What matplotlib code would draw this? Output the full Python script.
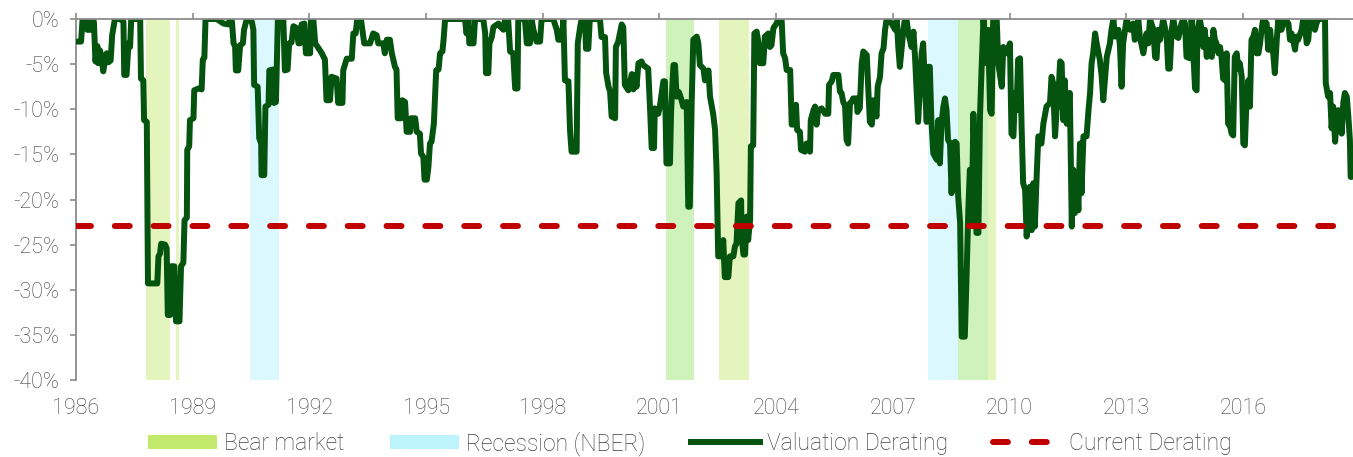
import matplotlib
matplotlib.use("Agg")
import matplotlib.pyplot as plt
from matplotlib.patches import Patch
from matplotlib.lines import Line2D
from matplotlib.ticker import FuncFormatter

plt.rcParams['font.family'] = ['Roboto', 'DejaVu Sans']
plt.rcParams['font.weight'] = 'light'

# valuation derating (% below previous peak)
dates = [
    1986.02, 1986.13, 1986.17, 1986.26, 1986.29, 1986.36, 1986.40, 1986.46, 1986.50, 1986.55,
    1986.57, 1986.62, 1986.66, 1986.70, 1986.75, 1986.79, 1986.83, 1986.89, 1986.93, 1986.96,
    1987.00, 1987.13, 1987.22, 1987.24, 1987.30, 1987.35, 1987.39, 1987.42, 1987.65, 1987.67,
    1987.73, 1987.75, 1987.82, 1987.85, 1988.09, 1988.12, 1988.16, 1988.19, 1988.29, 1988.33,
    1988.36, 1988.42, 1988.44, 1988.53, 1988.57, 1988.66, 1988.70, 1988.76, 1988.79, 1988.85,
    1988.86, 1988.91, 1988.93, 1989.02, 1989.04, 1989.15, 1989.23, 1989.26, 1989.30, 1989.33,
    1989.62, 1989.79, 1989.92, 1989.96, 1990.01, 1990.05, 1990.09, 1990.11, 1990.17, 1990.22,
    1990.29, 1990.32, 1990.39, 1990.52, 1990.56, 1990.58, 1990.67, 1990.71, 1990.76, 1990.77,
    1990.84, 1990.87, 1990.95, 1990.97, 1991.06, 1991.09, 1991.14, 1991.19, 1991.23, 1991.33,
    1991.37, 1991.44, 1991.48, 1991.54, 1991.59, 1991.67, 1991.72, 1991.76, 1991.80, 1991.87,
    1991.91, 1992.02, 1992.04, 1992.10, 1992.15, 1992.23, 1992.32, 1992.40, 1992.44, 1992.53,
    1992.57, 1992.70, 1992.74, 1992.85, 1992.87, 1992.96, 1993.09, 1993.13, 1993.19, 1993.23,
    1993.33, 1993.41, 1993.56, 1993.64, 1993.73, 1993.77, 1993.90, 1993.94, 1993.99, 1994.07,
    1994.12, 1994.20, 1994.24, 1994.27, 1994.36, 1994.39, 1994.46, 1994.50, 1994.59, 1994.61,
    1994.72, 1994.76, 1994.84, 1994.87, 1994.93, 1994.96, 1995.02, 1995.06, 1995.10, 1995.14,
    1995.20, 1995.26, 1995.32, 1995.36, 1995.42, 1995.45, 1995.49, 1996.00, 1996.04, 1996.09,
    1996.11, 1996.22, 1996.26, 1996.47, 1996.52, 1996.54, 1996.60, 1996.63, 1996.69, 1996.73,
    1996.86, 1996.90, 1996.99, 1997.03, 1997.11, 1997.16, 1997.24, 1997.29, 1997.35, 1997.37,
    1997.54, 1997.59, 1997.67, 1997.71, 1997.76, 1997.84, 1997.93, 1997.97, 1998.27, 1998.36,
    1998.40, 1998.49, 1998.53, 1998.57, 1998.66, 1998.70, 1998.74, 1998.87, 1998.90, 1998.96,
    1999.00, 1999.09, 1999.11, 1999.17, 1999.21, 1999.47, 1999.51, 1999.60, 1999.63, 1999.69,
    1999.73, 1999.77, 1999.86, 1999.88, 1999.94, 2000.03, 2000.07, 2000.11, 2000.20, 2000.29,
    2000.33, 2000.37, 2000.41, 2000.46, 2000.54, 2000.58, 2000.71, 2000.76, 2000.80, 2000.86,
    2000.88, 2000.97, 2001.01, 2001.10, 2001.14, 2001.18, 2001.27, 2001.30, 2001.36, 2001.40,
    2001.44, 2001.50, 2001.57, 2001.61, 2001.70, 2001.74, 2001.78, 2001.83, 2001.87, 2001.96,
    2002.00, 2002.04, 2002.13, 2002.17, 2002.26, 2002.30, 2002.38, 2002.43, 2002.47, 2002.51,
    2002.60, 2002.64, 2002.68, 2002.77, 2002.81, 2002.90, 2002.94, 2002.98, 2003.03, 2003.10,
    2003.11, 2003.16, 2003.20, 2003.24, 2003.28, 2003.33, 2003.35, 2003.41, 2003.44, 2003.50,
    2003.54, 2003.58, 2003.67, 2003.71, 2003.80, 2003.84, 2003.88, 2003.93, 2004.01, 2004.06,
    2004.14, 2004.18, 2004.23, 2004.27, 2004.36, 2004.40, 2004.48, 2004.51, 2004.54, 2004.61,
    2004.64, 2004.74, 2004.78, 2004.87, 2004.89, 2004.96, 2005.00, 2005.04, 2005.08, 2005.17,
    2005.26, 2005.34, 2005.36, 2005.43, 2005.47, 2005.60, 2005.64, 2005.68, 2005.73, 2005.77,
    2005.81, 2005.85, 2005.90, 2005.94, 2005.98, 2006.07, 2006.09, 2006.15, 2006.20, 2006.24,
    2006.33, 2006.37, 2006.41, 2006.46, 2006.50, 2006.58, 2006.61, 2006.67, 2006.71, 2006.76,
    2006.80, 2006.84, 2006.97, 2007.06, 2007.10, 2007.14, 2007.18, 2007.23, 2007.27, 2007.31,
    2007.35, 2007.40, 2007.48, 2007.53, 2007.57, 2007.61, 2007.65, 2007.70, 2007.74, 2007.78,
    2007.83, 2007.87, 2007.91, 2007.95, 2007.99, 2008.04, 2008.13, 2008.17, 2008.21, 2008.25,
    2008.30, 2008.34, 2008.38, 2008.42, 2008.47, 2008.51, 2008.55, 2008.60, 2008.64, 2008.68,
    2008.73, 2008.77, 2008.85, 2008.90, 2008.94, 2008.98, 2009.03, 2009.07, 2009.11, 2009.15,
    2009.20, 2009.24, 2009.28, 2009.33, 2009.37, 2009.41, 2009.45, 2009.50, 2009.54, 2009.58,
    2009.67, 2009.71, 2009.80, 2009.84, 2009.93, 2010.01, 2010.05, 2010.10, 2010.14, 2010.18,
    2010.22, 2010.27, 2010.31, 2010.35, 2010.40, 2010.44, 2010.48, 2010.52, 2010.57, 2010.61,
    2010.65, 2010.70, 2010.74, 2010.82, 2010.87, 2010.95, 2011.04, 2011.08, 2011.12, 2011.17,
    2011.21, 2011.25, 2011.30, 2011.34, 2011.38, 2011.42, 2011.47, 2011.51, 2011.55, 2011.60,
    2011.64, 2011.68, 2011.73, 2011.77, 2011.81, 2011.85, 2011.90, 2011.98, 2012.03, 2012.07,
    2012.11, 2012.15, 2012.20, 2012.24, 2012.32, 2012.37, 2012.41, 2012.45, 2012.50, 2012.58,
    2012.62, 2012.67, 2012.71, 2012.80, 2012.84, 2012.88, 2012.92, 2013.01, 2013.10, 2013.18,
    2013.22, 2013.27, 2013.31, 2013.35, 2013.44, 2013.52, 2013.57, 2013.61, 2013.70, 2013.74,
    2013.78, 2013.82, 2013.87, 2013.95, 2014.04, 2014.08, 2014.12, 2014.17, 2014.21, 2014.29,
    2014.34, 2014.42, 2014.47, 2014.51, 2014.55, 2014.64, 2014.68, 2014.77, 2014.81, 2014.83,
    2014.89, 2014.94, 2014.98, 2015.02, 2015.07, 2015.11, 2015.15, 2015.20, 2015.24, 2015.28,
    2015.32, 2015.37, 2015.41, 2015.45, 2015.49, 2015.54, 2015.58, 2015.62, 2015.67, 2015.71,
    2015.75, 2015.79, 2015.84, 2015.88, 2015.92, 2015.97, 2016.01, 2016.05, 2016.09, 2016.14,
    2016.18, 2016.22, 2016.27, 2016.31, 2016.35, 2016.40, 2016.44, 2016.48, 2016.52, 2016.61,
    2016.65, 2016.70, 2016.74, 2016.78, 2016.82, 2016.87, 2016.91, 2016.99, 2017.08, 2017.17,
    2017.21, 2017.25, 2017.29, 2017.34, 2017.38, 2017.42, 2017.51, 2017.55, 2017.59, 2017.64,
    2017.68, 2017.72, 2017.81, 2017.85, 2017.89, 2017.94, 2018.11, 2018.13, 2018.19, 2018.24,
    2018.28, 2018.32, 2018.37, 2018.41, 2018.45, 2018.49, 2018.54, 2018.58, 2018.62, 2018.67,
    2018.71, 2018.75, 2018.77, 2018.79,
]
derating = [
    -2.5, -2.5, 0, -0.2, -1.2, -1.2, 0, -0.3, -4.7, -3.0,
    -4.9, -3.5, -4.4, -5.8, -4.5, -3.8, -4.8, -4.6, -1.8, -1.0,
    0, 0, -0.3, -6.2, -6.2, -2.7, -3.1, 0, 0, -6.6,
    -6.8, -11.2, -11.4, -29.3, -29.3, -26.3, -26.0, -24.9, -25.0, -25.4,
    -32.8, -32.8, -27.4, -27.4, -33.5, -33.5, -27.4, -27.0, -22.3, -22.0,
    -14.5, -14.1, -11.2, -11.0, -7.9, -7.7, -7.8, -4.5, -4.3, 0,
    0, -0.5, -0.6, 0, -0.3, -2.7, -3.0, -5.7, -5.7, -2.9,
    -2.7, -1.2, 0, -0.3, -1.2, -7.3, -7.5, -13.2, -13.8, -17.3,
    -17.3, -9.7, -9.5, -5.7, -5.6, -9.3, -9.2, 0, 0, 0,
    -5.7, -5.6, -2.7, -2.6, -0.8, -1.0, -2.7, -2.7, -0.6, -0.5,
    -3.8, -3.8, 0, 0, -2.7, -3.2, -3.8, -4.5, -9.0, -9.0,
    -6.4, -6.6, -9.3, -9.3, -5.7, -4.4, -4.4, -1.6, -1.6, 0,
    -0.2, -2.7, -2.7, -1.6, -1.8, -2.7, -2.7, -3.8, -2.3, -2.3,
    -3.8, -5.3, -5.6, -11.0, -11.0, -9.0, -9.2, -12.5, -12.5, -11.0,
    -11.0, -12.5, -12.7, -14.9, -15.3, -17.8, -17.8, -16.4, -13.8, -13.6,
    -11.6, -5.7, -5.6, -3.8, -3.6, -2.3, 0, 0, -1.6, 0,
    -2.7, -2.7, 0, 0, -1.6, -6.0, -6.0, -2.7, -2.0, -0.9,
    -0.5, -0.8, -1.2, 0, 0, -3.6, -3.8, -7.7, -7.7, 0,
    0, -2.7, -2.7, 0, -1.2, -2.5, -2.5, 0, 0, -1.2,
    -2.3, -2.3, 0, -6.8, -6.9, -12.3, -14.7, -14.7, -2.7, -0.9,
    0, 0, -3.3, -3.3, 0, 0, -2.0, -2.0, -6.0, -7.5,
    -8.0, -10.8, -11.0, -3.1, -2.5, -0.6, -0.9, -7.3, -7.9, -6.1,
    -7.8, -6.2, -7.5, -4.9, -4.7, -5.1, -5.5, -10.1, -14.3, -14.3,
    -9.9, -10.5, -9.7, -6.9, -6.9, -16.0, -16.0, -10.1, -5.1, -5.1,
    -8.6, -8.1, -9.0, -9.7, -9.2, -20.8, -20.8, -9.0, -2.3, -1.95,
    -2.7, -5.1, -5.5, -6.8, -5.7, -8.6, -10.5, -12.3, -17.1, -26.3,
    -26.3, -24.5, -28.6, -28.6, -26.3, -26.3, -25.2, -24.9, -20.4, -20.1,
    -24.1, -26.1, -26.1, -21.9, -24.5, -22.3, -14.1, -14.0, -1.6, -1.4,
    -2.5, -4.9, -4.9, -1.95, -1.6, -3.1, -2.9, -1.0, -0.5, 0,
    0, -3.8, -4.35, -5.65, -5.65, -11.7, -11.7, -9.5, -12.3, -12.5,
    -14.5, -14.7, -13.8, -14.7, -11.2, -10.1, -9.7, -11.7, -10.1, -9.9,
    -10.5, -10.5, -7.3, -6.9, -6.2, -6.2, -8.05, -8.2, -9.3, -9.5,
    -13.4, -13.8, -9.3, -9.2, -8.8, -8.8, -10.3, -9.9, -4.9, -3.6,
    -4.0, -7.9, -11.4, -11.7, -9.0, -10.8, -7.5, -6.4, -3.8, -3.25,
    -1.2, 0, -0.5, -1.2, 0, -3.1, -5.3, -3.1, -1.2, 0,
    0, -1.6, -3.1, -1.4, -4.2, -7.9, -11.4, -7.1, -3.8, -2.7,
    -7.9, -11.4, -5.3, -5.3, -11.2, -14.9, -15.6, -11.2, -16.0, -11.6,
    -9.7, -8.8, -10.1, -13.4, -13.8, -19.3, -13.8, -13.6, -13.8, -19.7,
    -22.6, -35.2, -35.2, -27.8, -21.2, -16.7, -22.6, -10.5, -16.4, -23.7,
    -23.7, -10.8, -5.65, 0, -2.7, -4.9, -1.2, -10.1, -10.5, 0,
    0, -4.9, -7.5, -3.1, -3.8, -2.7, -12.7, -13.0, -8.2, -10.1,
    -4.5, -4.35, -11.9, -18.2, -18.9, -24.1, -21.9, -18.6, -23.4, -18.2,
    -23.0, -17.1, -13.0, -13.8, -11.6, -9.7, -9.3, -6.4, -7.1, -13.0,
    -10.1, -9.0, -4.7, -4.9, -11.2, -6.8, -11.6, -9.3, -8.2, -23.0,
    -16.7, -21.5, -17.5, -21.2, -13.8, -19.3, -13.0, -13.0, -10.1, -8.2,
    -4.9, -3.8, -1.6, -2.7, -4.5, -6.4, -9.0, -6.8, -4.2, -2.7,
    -1.2, 0, -1.95, -1.2, -3.1, -7.5, -2.7, 0, -1.2, -0.5,
    -2.3, -1.2, 0, -1.95, -3.8, -1.6, -2.7, 0, -1.2, -4.2,
    -4.35, -1.2, -2.3, 0, -1.95, -5.5, -5.5, -1.2, 0, -1.95,
    -2.1, -0.5, 0, -0.5, -4.2, -4.35, 0, -7.7, -7.9, -1.2,
    0, -1.2, -3.1, -1.2, -4.2, -2.3, -3.8, -4.2, -1.2, -2.3,
    -2.7, -3.8, -3.1, -4.2, -6.6, -6.8, -3.8, -11.6, -11.9, -12.7,
    -12.9, -4.2, -3.8, -5.5, -4.9, -6.4, -13.8, -14.0, -9.3, -6.8,
    -9.7, -2.3, -1.95, -1.2, -3.8, -3.8, -2.7, -1.2, 0, -0.5,
    -3.4, -1.2, -3.4, -3.8, -6.0, -2.3, 0, -1.2, 0, -0.5,
    -2.3, -1.6, -2.3, -3.4, -1.95, -2.3, -1.2, 0, -0.5, -2.7,
    -2.3, 0, -0.5, -1.2, -0.5, 0, 0, -7.1, -8.6, -8.2,
    -12.1, -9.7, -13.6, -11.2, -10.1, -10.5, -12.7, -9.3, -8.2, -8.6,
    -10.8, -13.4, -17.5, -17.5,
]
current_derating = -22.9

# shaded periods
bear_start = [1987.80, 1988.57, 2001.18, 2002.53, 2008.68]
bear_end = [1988.42, 1988.64, 2001.89, 2003.30, 2009.64]
recession_start = [1990.47, 2001.16, 2007.91]
recession_end = [1991.23, 2001.88, 2009.45]

year_ticks = [1986, 1989, 1992, 1995, 1998, 2001, 2004, 2007, 2010, 2013, 2016]
pct_ticks = [0, -5, -10, -15, -20, -25, -30, -35, -40]

bear_col = '#c2e96c'
rec_col = '#bdf4fc'
line_col = '#04530f'
red_col = '#c00000'
grey = '#8c8c8c'
text_col = '#404040'

fig = plt.figure(figsize=(13.53, 4.57), dpi=100)
ax = fig.add_axes([76 / 1353, 1 - 380 / 457, 1 - 76 / 1353, (380 - 19) / 457])

for s, e in zip(recession_start, recession_end):
    ax.axvspan(s, e, color=rec_col, alpha=0.55, lw=0, zorder=1)
for s, e in zip(bear_start, bear_end):
    ax.axvspan(s, e, color=bear_col, alpha=0.45, lw=0, zorder=1)

ax.plot(dates, derating, color=line_col, lw=4.3, solid_joinstyle='round',
        solid_capstyle='round', zorder=3)
ax.axhline(current_derating, color=red_col, lw=4.3, dashes=(2.5, 4.0),
           dash_capstyle='round', zorder=4)

ax.set_xlim(1986, 2018.83)
ax.set_ylim(-40, 0)
ax.set_xticks(year_ticks)
ax.set_yticks(pct_ticks)
ax.yaxis.set_major_formatter(FuncFormatter(lambda v, p: f'{v:.0f}%'))

for side in ['right', 'bottom']:
    ax.spines[side].set_visible(False)
for side in ['top', 'left']:
    ax.spines[side].set_color(grey)
    ax.spines[side].set_linewidth(1.3)
ax.spines['top'].set_zorder(5)

ax.tick_params(axis='x', top=True, bottom=False, labeltop=False, labelbottom=True,
               direction='out', length=4, width=1.2, color=grey, pad=9,
               labelsize=15.5, labelcolor=text_col)
ax.tick_params(axis='y', direction='out', length=4, width=1.2, color=grey, pad=8,
               labelsize=15.5, labelcolor=text_col)

handles = [
    Patch(facecolor=bear_col, edgecolor='none'),
    Patch(facecolor=rec_col, edgecolor='none'),
    Line2D([], [], color=line_col, lw=4.3),
    Line2D([], [], color=red_col, lw=4.3, dashes=(2.5, 4.0), dash_capstyle='round'),
]
labels = ['Bear market', 'Recession (NBER)', 'Valuation Derating', 'Current Derating']
leg = fig.legend(handles, labels, loc='center', bbox_to_anchor=(0.51, 0.03), ncol=4,
                 frameon=False, fontsize=16.5, handlelength=3.0, handleheight=0.6,
                 handletextpad=0.3, columnspacing=2.0, labelcolor=text_col)

fig.savefig('out.png', dpi=100)
